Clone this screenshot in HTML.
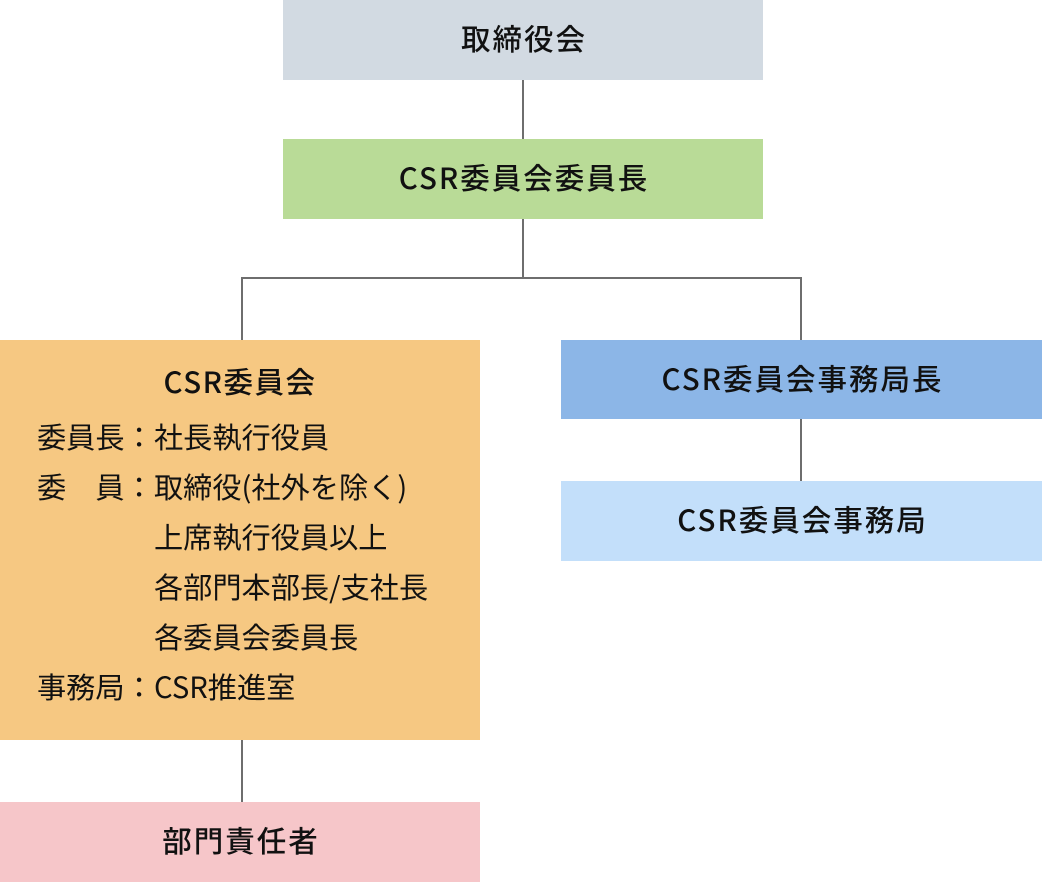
<!DOCTYPE html>
<html>
<head>
<meta charset="utf-8">
<style>
  html, body { margin:0; padding:0; }
  body { width:1042px; height:882px; position:relative; background:#ffffff; overflow:hidden;
         font-family:"Noto Sans CJK JP", "Liberation Sans", sans-serif; color:#111; }
  .box { position:absolute; display:flex; align-items:center; justify-content:center;
         font-size:29.5px; font-weight:500; letter-spacing:2px; line-height:1; }
  .box span { position:relative; top:-1px; left:1px; }
  .ln { position:absolute; background:#6e6e6e; }
  .orange { position:absolute; left:0; top:340px; width:480px; height:400px; background:#f6c882; }
  .otitle { position:absolute; left:0; width:480px; top:16px; height:50px; line-height:50px;
            text-align:center; font-size:29.5px; font-weight:500; letter-spacing:1.5px; }
  .row { position:absolute; left:37px; height:50px; line-height:50px; font-size:29.2px; white-space:nowrap; }
  .lab { display:inline-block; width:117px; }
</style>
</head>
<body>
  <!-- connectors -->
  <div class="ln" style="left:522px; top:80px; width:2px; height:59px;"></div>
  <div class="ln" style="left:522px; top:219px; width:2px; height:59px;"></div>
  <div class="ln" style="left:241px; top:277px; width:561px; height:2px;"></div>
  <div class="ln" style="left:241px; top:277px; width:2px; height:63px;"></div>
  <div class="ln" style="left:800px; top:277px; width:2px; height:63px;"></div>
  <div class="ln" style="left:800px; top:419px; width:2px; height:62px;"></div>
  <div class="ln" style="left:241px; top:740px; width:2px; height:62px;"></div>

  <!-- boxes -->
  <div class="box" style="left:283px; top:0; width:480px; height:80px; background:#d2dae2;"><span>取締役会</span></div>
  <div class="box" style="left:283px; top:139px; width:480px; height:80px; background:#b9db97;"><span>CSR委員会委員長</span></div>

  <div class="orange">
    <div class="otitle">CSR委員会</div>
    <div class="row" style="top:71px;"><span class="lab">委員長：</span>社長執行役員</div>
    <div class="row" style="top:121px;"><span class="lab">委　員：</span>取締役(社外を除く)</div>
    <div class="row" style="top:171px;"><span class="lab"></span>上席執行役員以上</div>
    <div class="row" style="top:221px;"><span class="lab"></span>各部門本部長/支社長</div>
    <div class="row" style="top:271px;"><span class="lab"></span>各委員会委員長</div>
    <div class="row" style="top:321px;"><span class="lab">事務局：</span>CSR推進室</div>
  </div>

  <div class="box" style="left:561px; top:340px; width:481px; height:79px; background:#8cb6e7;"><span>CSR委員会事務局長</span></div>
  <div class="box" style="left:561px; top:481px; width:481px; height:80px; background:#c3dffa;"><span>CSR委員会事務局</span></div>

  <div class="box" style="left:0; top:802px; width:480px; height:80px; background:#f6c6c9;"><span>部門責任者</span></div>
</body>
</html>
